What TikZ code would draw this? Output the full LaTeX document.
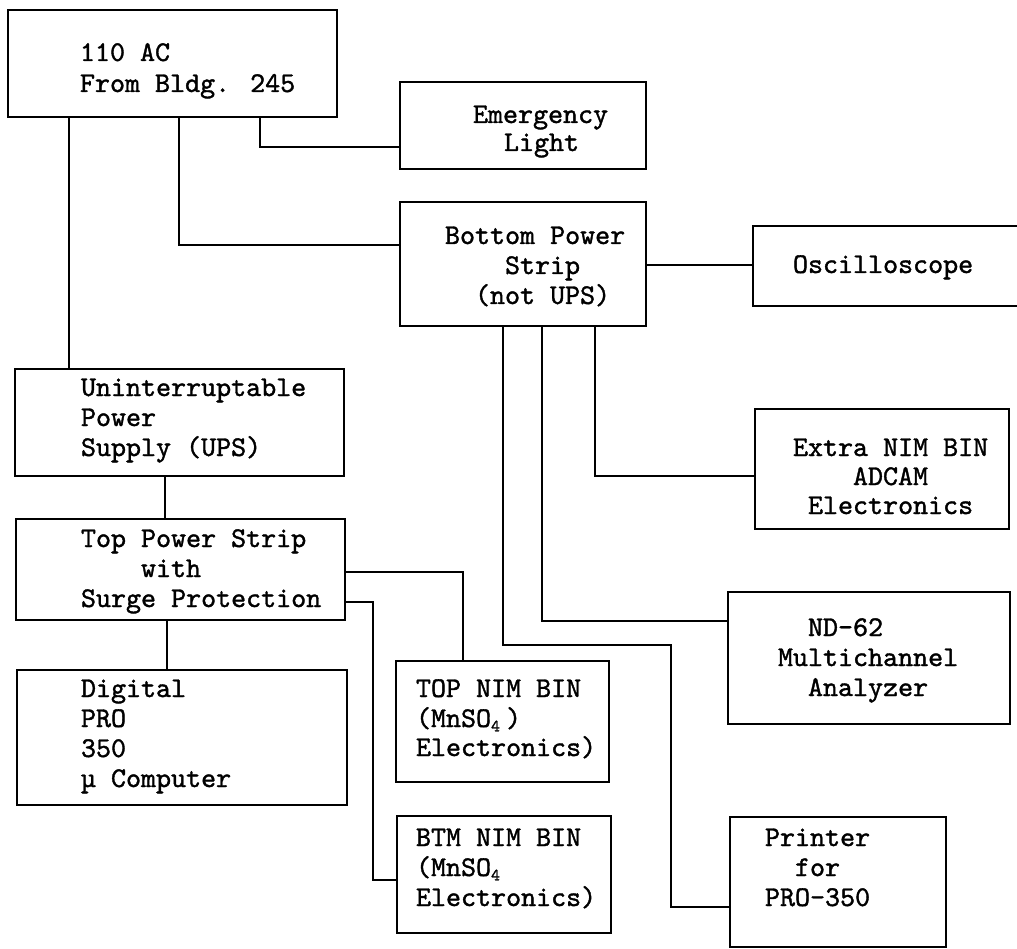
\documentclass[tikz,border=0pt]{standalone}
\usepackage{fontspec}
\newfontfamily\twfont{lmmono10-regular.otf}[FakeBold=1.3]
\begin{document}
\begin{tikzpicture}[x=1pt,y=-1pt,
  box/.style={draw,line width=2.8pt,rectangle,inner sep=0pt,outer sep=0pt},
  wire/.style={line width=2.8pt,line join=miter},
  txt/.style={anchor=base west,inner sep=0pt,outer sep=0pt,font=\fontsize{28.6}{30}\selectfont\twfont}]
\newcommand{\subf}[1]{\makebox[0.525em][l]{\raisebox{-0.35ex}{\fontsize{17}{17}\selectfont #1}}}
\useasboundingbox (0,0) rectangle (1017,949);
\clip (0,0) rectangle (1017,949);
% boxes
\node[box,minimum width=329pt,minimum height=107pt] (ac) at (172.5,63.5) {};
\node[box,minimum width=246pt,minimum height=87pt] (el) at (523,125.5) {};
\node[box,minimum width=246pt,minimum height=124pt] (bps) at (523,264) {};
\node[box,minimum width=287pt,minimum height=80pt] (osc) at (896.5,266) {};
\node[box,minimum width=254pt,minimum height=120pt] (xnim) at (882,469) {};
\node[box,minimum width=282pt,minimum height=132pt] (nd) at (869,658) {};
\node[box,minimum width=216pt,minimum height=130pt] (prn) at (838,882) {};
\node[box,minimum width=213pt,minimum height=121pt] (tnim) at (502.5,721.5) {};
\node[box,minimum width=214pt,minimum height=117pt] (bnim) at (504,874.5) {};
\node[box,minimum width=329pt,minimum height=107pt] (ups) at (179.5,422.5) {};
\node[box,minimum width=329pt,minimum height=101pt] (tps) at (180.5,569.5) {};
\node[box,minimum width=330pt,minimum height=135pt] (dig) at (182,737.5) {};
% texts
\node[txt] (ac1) at (80,61) {110 AC};
\node[txt] (ac2) at (80,92) {From Bldg. 245};
\node[txt] (el1) at (473,123) {Emergency};
\node[txt] (el2) at (504,151) {Light};
\node[txt] (bp1) at (445,244) {Bottom Power};
\node[txt] (bp2) at (505,274) {Strip};
\node[txt] (bp3) at (475,304) {(not UPS)};
\node[txt] (os1) at (793,273) {Oscilloscope};
\node[txt] (xn1) at (793,456) {Extra NIM BIN};
\node[txt] (xn2) at (853,485) {ADCAM};
\node[txt] (xn3) at (808,514) {Electronics};
\node[txt] (nd1) at (808,636) {ND-62};
\node[txt] (nd2) at (778,666) {Multichannel};
\node[txt] (nd3) at (808,696) {Analyzer};
\node[txt] (pr1) at (765,846) {Printer};
\node[txt] (pr2) at (795,876) {for};
\node[txt] (pr3) at (765,906) {PRO-350};
\node[txt] (tn1) at (416,697) {TOP NIM BIN};
\node[txt] (tn2) at (416,727) {(MnSO\subf{4})};
\node[txt] (tn3) at (416,756) {Electronics)};
\node[txt] (bn1) at (416,846) {BTM NIM BIN};
\node[txt] (bn2) at (416,876) {(MnSO\subf{4}};
\node[txt] (bn3) at (416,906) {Electronics)};
\node[txt] (up1) at (81,396) {Uninterruptable};
\node[txt] (up2) at (81,426) {Power};
\node[txt] (up3) at (81,456) {Supply (UPS)};
\node[txt] (tp1) at (81,547) {Top Power Strip};
\node[txt] (tp2) at (141,577) {with};
\node[txt] (tp3) at (81,607) {Surge Protection};
\node[txt] (dg1) at (81,697) {Digital};
\node[txt] (dg2) at (81,727) {PRO};
\node[txt] (dg3) at (81,757) {350};
\node[txt] (dg4) at (81,787) {µ Computer};
% connectors
\coordinate (pbend) at (671,645);
\draw[wire] (ac.south -| 69,0) -- (ups.north -| 69,0);
\draw[wire] (ac.south -| 179,0) |- (bps.west |- 0,245);
\draw[wire] (ac.south -| 260,0) |- (el.west |- 0,147);
\draw[wire] (bps.east |- 0,265) -- (osc.west |- 0,265);
\draw[wire] (bps.south -| 595,0) |- (xnim.west |- 0,476);
\draw[wire] (bps.south -| 542,0) |- (nd.west |- 0,621);
\draw[wire] (bps.south -| 503,0) |- (pbend) |- (prn.west |- 0,907);
\draw[wire] (ups.south -| 165,0) -- (tps.north -| 165,0);
\draw[wire] (tps.east |- 0,572) -| (tnim.north -| 463,0);
\draw[wire] (tps.east |- 0,602) -| (373,880) -- (bnim.west |- 0,880);
\draw[wire] (tps.south -| 167,0) -- (dig.north -| 167,0);
\end{tikzpicture}
\end{document}
